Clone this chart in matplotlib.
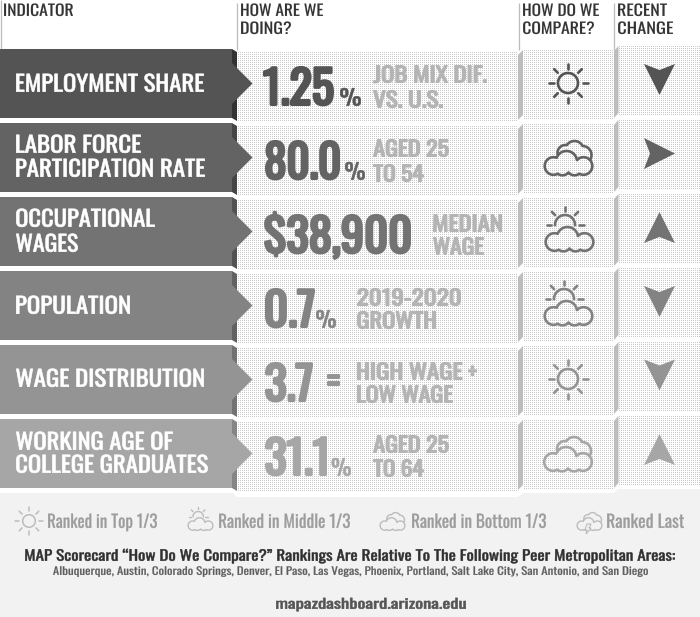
import numpy as np
import matplotlib
matplotlib.use("Agg")
import matplotlib.pyplot as plt
from matplotlib import font_manager as fm
from matplotlib.patches import Polygon, Rectangle, Circle
from matplotlib.patheffects import AbstractPathEffect
from matplotlib.textpath import TextPath
from matplotlib.transforms import Affine2D

# ---------- chart content ----------
indicators = [["EMPLOYMENT SHARE"], ["LABOR FORCE", "PARTICIPATION RATE"], ["OCCUPATIONAL", "WAGES"],
              ["POPULATION"], ["WAGE DISTRIBUTION"], ["WORKING AGE OF", "COLLEGE GRADUATES"]]
values = ["1.25", "80.0", "$38,900", "0.7", "3.7", "31.1"]
units = ["%", "%", "", "%", "=", "%"]
notes = [["JOB MIX DIF.", "VS. U.S."], ["AGED 25", "TO 54"], ["MEDIAN", "WAGE"],
         ["2019-2020", "GROWTH"], ["HIGH WAGE ÷", "LOW WAGE"], ["AGED 25", "TO 64"]]
compare = ["sun", "cloud", "partly", "partly", "sun", "cloud"]
change = ["down", "right", "up", "down", "down", "up"]
legend_labels = ["Ranked in Top 1/3", "Ranked in Middle 1/3", "Ranked in Bottom 1/3", "Ranked Last"]
footer_title = "MAP Scorecard “How Do We Compare?” Rankings Are Relative To The Following Peer Metropolitan Areas:"
footer_peers = ("Albuquerque, Austin, Colorado Springs, Denver, El Paso, Las Vegas, Phoenix, "
                "Portland, Salt Lake City, San Antonio, and San Diego")
footer_url = "mapazdashboard.arizona.edu"

# ---------- styling / layout ----------
shades = ["#545454", "#636363", "#737373", "#838383", "#949494", "#a6a6a6"]
folds = ["#333333", "#454545", "#525252", "#626262", "#727272", "#858585"]
row_tops = [49, 123, 197, 271, 345, 419]
FAMILY = ["Oswald", "Liberation Sans Narrow", "Liberation Sans"]
DPI = 100

fig = plt.figure(figsize=(7.00, 6.17), dpi=DPI, facecolor="white")
ax = fig.add_axes([0, 0, 1, 1])
ax.set_xlim(0, 700)
ax.set_ylim(617, 0)
ax.axis("off")


class HScale(AbstractPathEffect):
    """Squeeze or widen a text line horizontally and thicken it, keeping it real text."""
    def __init__(self, sx, stroke=0.0):
        super().__init__()
        self.sx = sx
        self.stroke = stroke

    def draw_path(self, renderer, gc, tpath, affine, rgbFace=None):
        gc0 = renderer.new_gc()
        gc0.copy_properties(gc)
        if self.stroke > 0 and rgbFace is not None:
            gc0.set_linewidth(self.stroke)
            gc0.set_foreground(rgbFace)
        renderer.draw_path(gc0, tpath, Affine2D().scale(self.sx, 1) + affine, rgbFace)
        gc0.restore()


def fit(s, x0, x1, base, cap, color, ref="H", stroke=0.0, ink_base=False):
    """Place s with its ink from x0 to x1, baseline at base, ref glyph height cap px.
    The stroke that thickens the glyphs is allowed for in these limits."""
    inset = stroke * DPI / 72 / 2
    x0, x1, base, cap = x0 + inset, x1 - inset, base - inset, cap - 2 * inset
    fp = fm.FontProperties(family=FAMILY)
    h = TextPath((0, 0), ref, size=100, prop=fp).get_extents().height
    size_px = cap / h * 100
    ext = TextPath((0, 0), s, size=size_px, prop=fp).get_extents()
    sx = (x1 - x0) / ext.width
    if ink_base:
        base += ext.y0
    t = ax.text(x0 - ext.x0 * sx, base, s, fontproperties=fp, fontsize=size_px * 72 / DPI, color=color,
                ha="left", va="baseline", zorder=6)
    t.set_path_effects([HScale(sx, stroke)])
    return t


# footer background
ax.add_patch(Polygon([(0, 493), (233, 493), (237, 497), (518, 497), (523, 493), (614, 493),
                      (618, 489), (700, 489), (700, 617), (0, 617)], fc="#f2f2f2", ec="none", zorder=1))

# dotted pattern, pixel aligned
pat = np.full((617, 700), 1.0)
pat[::2, ::2] = 0.79


def dotted(x0, y0, x1, y1):
    im = ax.imshow(pat, cmap="gray", vmin=0, vmax=1, extent=(0, 700, 617, 0), interpolation="nearest",
                   zorder=2, aspect="auto")
    im.set_clip_path(Rectangle((x0, y0), x1 - x0, y1 - y0, transform=ax.transData))


for top in row_tops:
    dotted(237, top + 3, 518, top + 72)
    dotted(523, top, 614, top + 70)
    dotted(618.5, top - 4, 700, top + 67)
    ax.add_patch(Polygon([(518, top + 6), (523, top + 1), (523, top + 66), (518, top + 71)],
                         fc="#bdbdbd", ec="none", zorder=3))
    ax.add_patch(Polygon([(614, top + 2), (618.5, top - 3), (618.5, top + 64), (614, top + 69)],
                         fc="#bdbdbd", ec="none", zorder=3))
ax.set_xlim(0, 700)
ax.set_ylim(617, 0)

# header rules
for x, y0 in [(1, 0), (236.5, 3), (518.5, 3), (614, 3)]:
    ax.plot([x, x], [y0, 50], color="#bcbcbc", lw=0.9, zorder=3, solid_capstyle="butt")

# header text
HDR = "#333333"
for s, a, b, base in [("INDICATOR", 4, 73, 16), ("HOW ARE WE", 241, 323, 16), ("DOING?", 241, 291, 34),
                      ("HOW DO WE", 523, 599, 16), ("COMPARE?", 523, 594, 34),
                      ("RECENT", 618, 667, 16), ("CHANGE", 618, 673, 34)]:
    fit(s, a, b, base, 12.5, HDR, stroke=0.1)

# arrows in the indicator column
for top, c, f in zip(row_tops, shades, folds):
    ax.add_patch(Polygon([(232, top), (237, top + 3), (237, top + 72), (232, top + 69)],
                         fc=f, ec="none", zorder=4))
    ax.add_patch(Polygon([(0, top), (232, top), (232, top + 14), (252.5, top + 34.5), (232, top + 55),
                          (232, top + 69), (0, top + 69)], fc=c, ec="none", zorder=5))

# indicator labels: x0, x1, baseline per line
label_pos = [[(16, 204, 92)], [(16, 141, 153), (16, 205, 177)], [(16, 155, 227), (16, 78, 252)],
             [(16, 130, 314)], [(16, 204, 387)], [(16, 173, 450), (16, 208, 473)]]
for lines, pos in zip(indicators, label_pos):
    for s, (a, b, base) in zip(lines, pos):
        fit(s, a, b, base, 18.5, "#ffffff", stroke=0.5)

# big values
value_pos = [(263, 334, 106), (265, 340, 180), (264, 411, 254), (265, 315, 328), (265, 313, 402), (265, 327, 476)]
unit_pos = [(340, 361, 106), (345, 365, 180), None, (316, 336, 328), (327, 340, 386), (331.5, 351, 476)]
for v, u, c, vp, up in zip(values, units, shades, value_pos, unit_pos):
    fit(v, vp[0], vp[1], vp[2], 40.5, c, ref="0", stroke=2.1)
    if u == "%":
        fit(u, up[0], up[1], up[2], 18.5, c, ref="0", stroke=0.5)
    elif u:
        fit(u, up[0], up[1], up[2], 12, c, ref="=", stroke=1.4, ink_base=True)

# notes
NOTE = "#b4b4b4"
note_pos = [[(373, 487, 83), (373, 443, 108)], [(373, 449, 157), (373, 424, 182)],
            [(433, 502, 232), (433, 484, 255)], [(357, 461, 306), (357, 436, 329)],
            [(357, 477, 380), (357, 453, 403)], [(373, 449, 453), (373, 424, 477)]]
for lines, pos in zip(notes, note_pos):
    for s, (a, b, base) in zip(lines, pos):
        fit(s, a, b, base, 18, NOTE, stroke=1.0)


# ---------- icons ----------
def sun(cx, cy, r, color, lw, inner=1.45, outer=1.95):
    ax.add_patch(Circle((cx, cy), r, fc="none", ec=color, lw=lw, zorder=5))
    for k in range(8):
        a = np.deg2rad(45 * k)
        ax.plot([cx + inner * r * np.cos(a), cx + outer * r * np.cos(a)],
                [cy + inner * r * np.sin(a), cy + outer * r * np.sin(a)],
                color=color, lw=lw, zorder=5, solid_capstyle="round")


def sdf(X, Y, circles):
    return np.min([np.hypot(X - a, Y - b) - r for a, b, r in circles], axis=0)


FRONT = [(-15, 3, 8.8), (-2, -1.5, 10.5), (15, 3, 8.8), (-6, 4.5, 7.8), (6, 4.5, 7.8)]
BACK = [(-3, -10, 8), (6, -13, 9), (14, -8, 9)]


def cloud(cx, cy, k, color, lw, back=False):
    xs = np.linspace(-30, 30, 481)
    ys = np.linspace(-30, 30, 481)
    X, Y = np.meshgrid(xs, ys)
    F = sdf(X, Y, FRONT)
    ax.contour(cx + k * X, cy + k * Y, F, levels=[0], colors=[color], linewidths=lw, zorder=5)
    if back:
        B = np.ma.masked_where(F < 0, sdf(X, Y, BACK))
        ax.contour(cx + k * X, cy + k * Y, B, levels=[0], colors=[color], linewidths=lw, zorder=5)


def partly(cx, cy, k, color, lw):
    # sun peeking over the cloud: an upper arc with five rays
    sx, sy = cx - 4.5 * k, cy - 14 * k
    th = np.linspace(np.deg2rad(180), np.deg2rad(360), 60)
    ax.plot(sx + 10 * k * np.cos(th), sy + 10 * k * np.sin(th), color=color, lw=lw, zorder=5)
    for deg in [180, 225, 270, 315, 360]:
        a = np.deg2rad(deg)
        ax.plot([sx + 14 * k * np.cos(a), sx + 18.5 * k * np.cos(a)],
                [sy + 14 * k * np.sin(a), sy + 18.5 * k * np.sin(a)],
                color=color, lw=lw, zorder=5, solid_capstyle="round")
    cloud(cx, cy, k, color, lw)


def draw_compare(kind, cx, cy, color):
    if kind == "sun":
        sun(cx, cy, 10, color, 1.9)
    elif kind == "cloud":
        cloud(cx, cy, 1.0, color, 1.9, back=True)
    else:
        partly(cx, cy, 1.0, color, 1.9)


compare_centres = [(568, 83), (568.5, 163), (569.5, 239), (568.5, 313), (568, 379), (568, 459)]
for kind, c, (cx, cy) in zip(compare, shades, compare_centres):
    draw_compare(kind, cx, cy, c)

# change arrows
arrow_mid = [79.5, 153.5, 227.5, 301.5, 375, 449.5]
for d, c, m in zip(change, shades, arrow_mid):
    x, w, h, n = 659.5, 15.5, 15.5, 6
    if d == "down":
        pts = [(x - w, m - h), (x, m - h + n), (x + w, m - h), (x, m + h)]
    elif d == "up":
        pts = [(x - w, m + h), (x, m + h - n), (x + w, m + h), (x, m - h)]
    else:
        pts = [(x - h, m - w), (x - h + n, m), (x - h, m + w), (x + h, m)]
    ax.add_patch(Polygon(pts, fc=c, ec="none", zorder=5))

# ---------- footer ----------
LEG = "#9c9c9c"
ICON = "#bcbcbc"
sun(29, 521, 6.3, ICON, 1.1, inner=1.55, outer=2.2)
partly(200.5, 524, 0.52, ICON, 1.0)
cloud(392.5, 524, 0.52, ICON, 1.0, back=True)
cloud(589.5, 524, 0.52, ICON, 1.0, back=True)
ax.add_patch(Polygon([(587, 524), (591, 524), (589, 528), (591, 528), (586, 534), (587, 530), (585, 530)],
                     fc="#f2f2f2", ec=ICON, lw=0.8, zorder=6))
legend_pos = [(48, 157), (219, 350), (412, 546), (607, 684)]
for s, (a, b) in zip(legend_labels, legend_pos):
    fit(s, a, b, 528, 14.5, LEG, ref="R", stroke=0.2)

fit(footer_title, 25, 675, 561, 12, "#2f2f2f", ref="M", stroke=0.35)
fit(footer_peers, 53, 648, 575, 8.8, "#5e5e5e", ref="A", stroke=0.15)
fit(footer_url, 276, 466, 609, 11.5, "#555555", ref="d", stroke=0.45)

fig.savefig("out.png", dpi=DPI, facecolor="white")
